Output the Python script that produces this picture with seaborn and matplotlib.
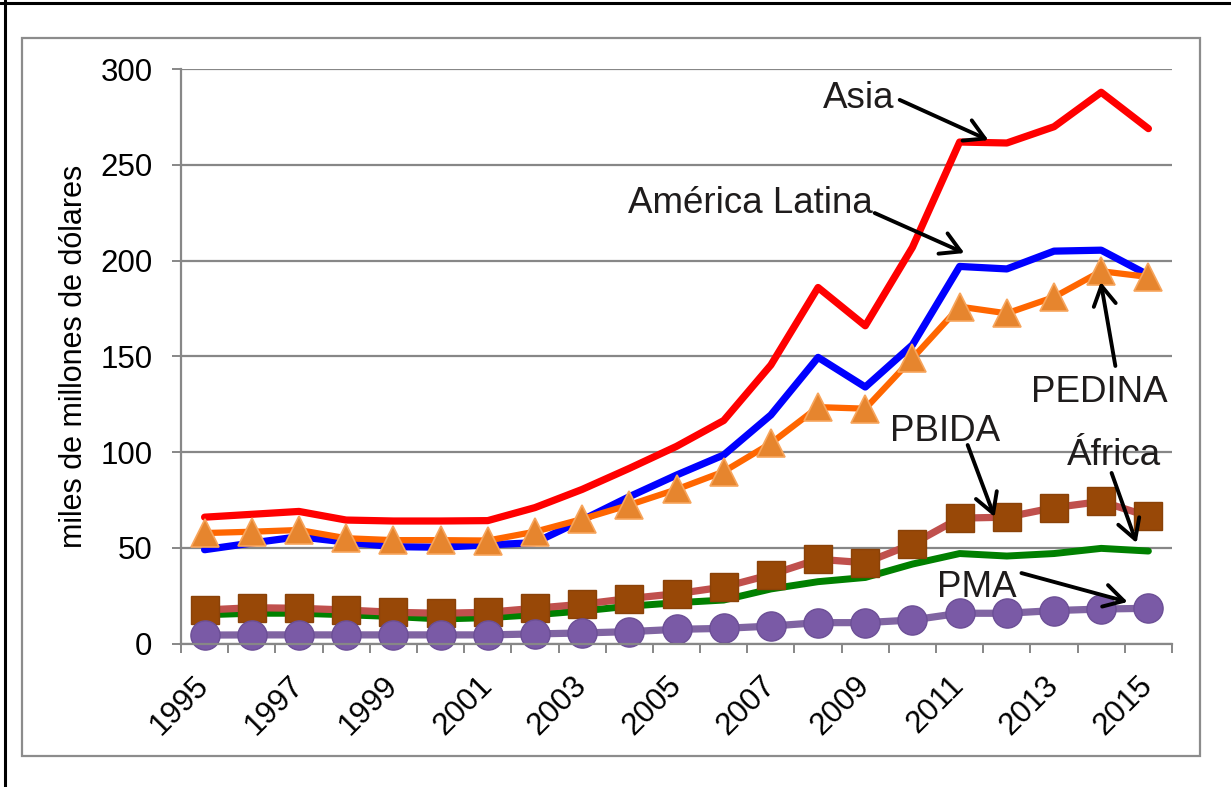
import numpy as np
import pandas as pd
import matplotlib
matplotlib.use("Agg")
import matplotlib.pyplot as plt
import seaborn as sns
from matplotlib.patches import Rectangle
from matplotlib.lines import Line2D

# values (miles de millones de dólares)
years = list(range(1995, 2016))
asia = [66, 67.5, 69, 64.5, 64, 64, 64.2, 71, 80.5, 91.5, 103, 116.5, 145.5, 186, 166, 207, 262, 261.5, 270, 288, 269]
america_latina = [49, 52.5, 55.8, 53, 50.6, 50.3, 51.5, 52.7, 64.5, 76.7, 88, 98.5, 119.4, 149.5, 134, 156, 197, 195.7, 205, 205.5, 192.5]
africa = [15, 15.8, 15.8, 15, 14.1, 12.8, 13.5, 15, 17, 19.5, 21.3, 22.7, 28.5, 32.3, 34.5, 41.5, 47, 45.7, 47, 49.7, 48.3]
pedina = [57.7, 58.4, 59.3, 55, 54, 54, 53.8, 58.4, 65, 72.4, 80.5, 89.8, 104.6, 123.5, 122.7, 149, 176, 172.5, 181, 194.5, 191.5]
pbida = [17.5, 18.7, 18.4, 17.5, 16.3, 15.8, 16.3, 18.4, 20.5, 23.5, 26, 29.5, 36, 44, 42.2, 52, 65.5, 66, 71, 74.2, 66.5]
pma = [4.4, 4.5, 4.5, 4.5, 4.5, 4.5, 4.5, 5, 5.5, 6.2, 7.4, 7.9, 9.1, 10.9, 10.9, 12.3, 15.8, 15.8, 17.2, 18, 18.4]

yticks = [0, 50, 100, 150, 200, 250, 300]
xtick_years = years[::2]

df = pd.DataFrame({"year": years, "Asia": asia, "América Latina": america_latina,
                   "África": africa, "PEDINA": pedina, "PBIDA": pbida, "PMA": pma})

sns.set_style("white")
plt.rcParams["font.family"] = ["Liberation Sans", "DejaVu Sans"]

fig = plt.figure(figsize=(12.31, 7.87), dpi=100)
ax = fig.add_axes([181 / 1231, 1 - 643.5 / 787, (1172 - 181) / 1231, (643.5 - 69.3) / 787])

# series, drawn in the same stacking order as the original
sns.lineplot(data=df, x="year", y="Asia", ax=ax, color="#FF0000", lw=5.2, clip_on=False)
sns.lineplot(data=df, x="year", y="América Latina", ax=ax, color="#0000FF", lw=5.2, clip_on=False)
sns.lineplot(data=df, x="year", y="África", ax=ax, color="#008000", lw=5.0, clip_on=False)
sns.lineplot(data=df, x="year", y="PEDINA", ax=ax, color="#FF6600", lw=4.5, marker="^", ms=20,
             mfc="#E6852E", mec="#F7A55C", mew=1.2, clip_on=False)
sns.lineplot(data=df, x="year", y="PBIDA", ax=ax, color="#C0504D", lw=5.2, marker="s", ms=20,
             mfc="#984807", mec="#8A4208", mew=1.0, clip_on=False)
sns.lineplot(data=df, x="year", y="PMA", ax=ax, color="#8064A2", lw=5.2, marker="o", ms=21,
             mfc="#7A5AA6", mec="#6C4F96", mew=1.0, clip_on=False)

ax.set_xlim(years[0] - 0.5, years[-1] + 0.5)
ax.set_ylim(0, 300)
ax.set_yticks(yticks)
ax.set_xticks(xtick_years)
ax.set_xticklabels([str(y) for y in xtick_years])
ax.set_xticks(np.arange(years[0] - 0.5, years[-1] + 1), minor=True)
ax.set_xlabel("")
ax.set_ylabel("miles de millones de dólares", fontsize=22, color="black")
ax.yaxis.set_label_coords(-0.108, 0.5)
ax.yaxis.label.set_va("center")

grey = "#878787"
ax.grid(axis="y", color=grey, lw=1.6)
ax.set_axisbelow(True)
for side in ["top", "right"]:
    ax.spines[side].set_visible(False)
for side in ["left", "bottom"]:
    ax.spines[side].set_color(grey)
    ax.spines[side].set_linewidth(1.6)

ax.tick_params(axis="y", which="major", length=6.5, width=1.4, color=grey, pad=14,
               labelsize=22.5, labelcolor="black", direction="out", left=True)
ax.tick_params(axis="x", which="major", length=0, pad=27, labelsize=22.5, labelcolor="black")
ax.tick_params(axis="x", which="minor", length=6.5, width=1.4, color=grey, direction="out", bottom=True)
plt.setp(ax.get_xticklabels(), rotation=45, ha="right", va="center", rotation_mode="anchor")

# callouts
txt_color = "#1F1C1C"
labels = [
    ("Asia", 2008.10, 279.8, "left", (2009.73, 284.0), (2011.61, 263.0)),
    ("América Latina", 2009.16, 224.9, "right", (2009.20, 224.9), (2011.10, 204.0)),
    ("PEDINA", 2012.52, 126.2, "left", (2014.30, 145.0), (2013.99, 188.9)),
    ("PBIDA", 2009.52, 105.8, "left", (2011.17, 103.7), (2011.74, 66.1)),
    ("África", 2013.27, 93.3, "left", (2014.22, 89.1), (2014.75, 52.5)),
    ("PMA", 2010.51, 24.3, "left", (2012.31, 36.8), (2014.56, 21.7)),
]
for name, tx, ty, ha, tail, head in labels:
    ax.text(tx, ty, name, fontsize=26.5, color=txt_color, ha=ha, va="baseline")
    ax.annotate("", xy=head, xytext=tail,
                arrowprops=dict(arrowstyle="->,head_length=0.7,head_width=0.4", lw=2.8,
                                color="black", mutation_scale=20, shrinkA=0, shrinkB=0))

# chart area frame and the black screenshot edge
fig.add_artist(Rectangle((22 / 1231, 1 - 756 / 787), (1200 - 22) / 1231, (756 - 38) / 787,
                         transform=fig.transFigure, fill=False, ec="#8C8C8C", lw=1.6))
fig.add_artist(Line2D([0, 1], [1 - 3 / 787] * 2, transform=fig.transFigure, color="black", lw=2.2))
fig.add_artist(Line2D([4.7 / 1231] * 2, [0, 1], transform=fig.transFigure, color="black", lw=2.2))

fig.savefig("out.png", dpi=100)
